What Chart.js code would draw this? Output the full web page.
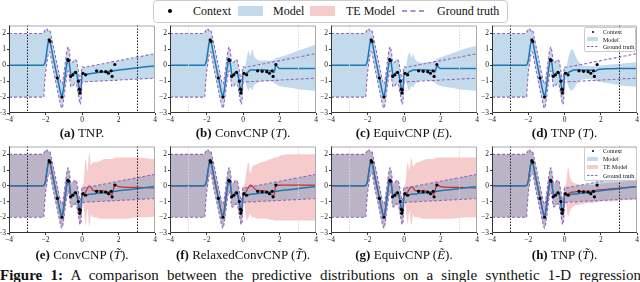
<!DOCTYPE html>
<html><head><meta charset="utf-8">
<script src="https://cdn.jsdelivr.net/npm/chart.js@4.4.1/dist/chart.umd.min.js"></script>
<style>
html,body{margin:0;padding:0;background:#fff;}
body{width:640px;height:282px;overflow:hidden;position:relative;font-family:"Liberation Serif","DejaVu Serif",serif;color:#111;}
canvas{position:absolute;}
.cap{position:absolute;font-size:13px;white-space:nowrap;transform:translateX(-50%);line-height:14px;}
.t{position:absolute;white-space:nowrap;}
#legend{position:absolute;left:153px;top:0px;width:353px;height:21px;border:1px solid #ccc;border-radius:4px;background:#fff;}
.lg{position:absolute;font-size:12px;line-height:12px;top:5px;}
.il{position:absolute;border:1px solid #ccc;border-radius:2px;background:rgba(255,255,255,0.85);}
.it{position:absolute;font-size:6px;line-height:6px;white-space:nowrap;}
#fig{position:absolute;left:0;top:267px;font-size:15px;line-height:17px;word-spacing:4.5px;white-space:nowrap;}
</style>
</head><body>
<script>
// ---------------- data ----------------
const xL = [-4,-2.15,-2.1,-2.05,-2.0,-1.95,-1.9,-1.85,-1.8,-1.75,-1.7,-1.6,-1.5,-1.4,-1.3,-1.2,-1.1,-1.0,-0.9,-0.8,-0.75,-0.7,-0.6,-0.5,-0.4,-0.3,-0.2,-0.1,-0.05,0.0];
const xR = [0.1,0.2,0.3,0.4,0.5,0.6,0.8,1.0,1.3,1.5,1.6,1.7,1.8,2.0,2.5,3.0,3.5,4.0];

const gtMeanL = [0,0,0.02,0.1,0.3,0.7,1.1,1.45,1.6,1.5,1.2,0.6,0.05,-0.5,-1.05,-1.6,-1.95,-1.35,-0.45,0.3,0.4,0.15,-0.6,-0.55,-0.4,-0.5,-1.1,-1.7,-1.45,-0.6];
const gtUpL   = [2,2,2.05,2.15,2.25,2.3,2.25,2.15,2.2,2.15,1.9,1.35,0.8,0.25,-0.3,-0.85,-1.2,-0.6,0.3,1.05,1.15,0.9,0.15,0.2,0.35,0.25,-0.35,-0.95,-0.7,-0.1];
const gtLoL   = [-2,-2,-2,-1.2,-0.5,-0.05,0.35,0.7,0.85,0.8,0.5,-0.15,-0.7,-1.25,-1.8,-2.35,-2.7,-2.1,-1.2,-0.45,-0.35,-0.6,-1.35,-1.3,-1.15,-1.25,-1.85,-2.45,-2.2,-1.1];

const gtMeanR = [-0.59,-0.57,-0.56,-0.54,-0.53,-0.52,-0.49,-0.46,-0.42,-0.39,-0.38,-0.36,-0.35,-0.32,-0.25,-0.18,-0.11,-0.04];
const gtUpR   = [-0.13,-0.1,-0.09,-0.06,-0.04,-0.02,0.02,0.07,0.13,0.18,0.2,0.23,0.24,0.29,0.4,0.51,0.62,0.73];
const gtLoR   = [-1.05,-1.04,-1.03,-1.02,-1.02,-1.02,-1.0,-0.99,-0.97,-0.96,-0.96,-0.95,-0.95,-0.93,-0.9,-0.87,-0.84,-0.81];

const ctxX = [-1.8,-1.75,-1.35,-1.1,-0.78,-0.74,-0.62,-0.5,-0.35,-0.2,-0.15,-0.12,-0.1,0.05,0.2,0.8,1.05,1.3,1.45,1.6,1.65,1.8];
const ctxY = [1.6,1.5,-0.8,-2.0,0.35,0.3,-0.7,-0.6,-0.45,-1.0,-1.5,-1.75,-1.55,-0.5,-0.6,-0.35,-0.38,-0.4,-0.5,-0.35,-0.7,0.05];

// model (right region, x > 0) per panel
const tnpMeanR  = [-0.55,-0.58,-0.56,-0.53,-0.51,-0.5,-0.47,-0.44,-0.41,-0.38,-0.37,-0.36,-0.33,-0.3,-0.24,-0.17,-0.1,-0.04];

const convTMeanR = [-0.55,-0.5,-0.4,-0.3,-0.3,-0.3,-0.3,-0.28,-0.3,-0.35,-0.38,-0.45,0.0,-0.2,-0.2,-0.2,-0.2,-0.2];
const convTUpR   = [-0.1,0.4,0.9,0.6,1.0,0.6,0.35,0.3,0.3,0.3,0.3,0.35,0.45,0.5,0.7,0.9,1.1,1.3];
const convTLoR   = [-1.0,-1.3,-1.6,-1.4,-1.55,-1.3,-1.1,-1.0,-1.0,-1.0,-1.05,-1.1,-1.2,-1.3,-1.4,-1.5,-1.55,-1.6];

const eqvEMeanR = [-0.55,-0.5,-0.4,-0.35,-0.3,-0.3,-0.3,-0.28,-0.3,-0.33,-0.38,-0.42,-0.05,-0.2,-0.2,-0.2,-0.2,-0.2];
const eqvEUpR   = [-0.1,0.5,0.8,0.5,0.7,0.4,0.2,0.15,0.2,0.2,0.25,0.3,0.4,0.5,0.7,0.9,1.1,1.25];
const eqvELoR   = [-1.0,-1.4,-1.6,-1.3,-1.4,-1.2,-1.0,-0.95,-0.95,-1.0,-1.05,-1.1,-1.2,-1.3,-1.4,-1.5,-1.55,-1.6];

const tnpTMeanR = [-0.5,-0.45,-0.4,-0.35,-0.3,-0.3,-0.3,-0.3,-0.3,-0.32,-0.35,-0.38,-0.3,-0.25,-0.22,-0.2,-0.2,-0.2];
const tnpTUpR   = [-0.1,0.4,0.8,1.0,0.9,0.6,0.2,0.0,-0.05,-0.05,-0.05,0.0,0.0,0.0,0.05,0.1,0.15,0.2];
const tnpTLoR   = [-0.9,-1.3,-1.5,-1.6,-1.5,-1.3,-1.0,-0.9,-0.85,-0.9,-0.9,-0.95,-1.0,-1.05,-1.15,-1.25,-1.3,-1.35];

// TE models (bottom row), right region
const teConvMeanR = [-0.5,-0.4,-0.15,0.0,-0.1,-0.3,-0.3,-0.3,-0.35,-0.45,-0.6,-0.35,0.1,-0.05,-0.1,-0.1,-0.12,-0.15];
const teConvUpR   = [0.3,1.7,0.9,2.1,1.3,1.5,1.5,1.6,1.7,1.7,1.7,1.7,1.8,1.8,1.8,1.8,1.75,1.7];
const teConvLoR   = [-1.4,-2.5,-1.5,-2.6,-1.8,-2.0,-2.0,-2.1,-2.1,-2.1,-2.1,-2.1,-2.1,-2.1,-2.1,-2.0,-2.0,-1.95];

const teRelMeanR = [-0.5,-0.3,-0.1,0.05,0.0,-0.15,-0.3,-0.3,-0.35,-0.5,-0.6,-0.6,0.05,0.05,0.05,0.05,0.05,0.05];
const teRelUpR   = [0.2,1.0,1.5,0.8,1.2,1.3,1.4,1.5,1.6,1.7,1.7,1.8,1.8,1.9,2.0,2.0,2.0,2.0];
const teRelLoR   = [-1.3,-2.2,-2.0,-1.8,-2.0,-2.0,-2.1,-2.1,-2.1,-2.15,-2.15,-2.2,-2.2,-2.2,-2.2,-2.2,-2.2,-2.2];

const teEqvMeanR = [-0.5,-0.4,-0.2,-0.05,-0.1,-0.3,-0.3,-0.3,-0.35,-0.45,-0.55,-0.35,0.1,-0.05,-0.1,-0.1,-0.12,-0.15];
const teEqvUpR   = [0.3,1.5,1.0,1.8,1.2,1.4,1.5,1.6,1.7,1.7,1.7,1.75,1.8,1.8,1.8,1.8,1.8,1.8];
const teEqvLoR   = [-1.4,-2.4,-1.6,-2.5,-1.8,-2.0,-2.0,-2.1,-2.1,-2.1,-2.1,-2.1,-2.1,-2.1,-2.1,-2.05,-2.0,-2.0];

const teTnpMeanR = [-0.55,-0.5,-0.45,-0.4,-0.4,-0.38,-0.35,-0.35,-0.33,-0.33,-0.35,-0.3,-0.25,-0.25,-0.2,-0.15,-0.1,-0.05];
const teTnpUpR   = [0.2,1.2,0.6,0.3,0.2,0.15,0.1,0.05,0.05,0.05,0.05,0.05,0.1,0.15,0.2,0.25,0.3,0.35];
const teTnpLoR   = [-1.3,-2.0,-1.6,-1.4,-1.3,-1.25,-1.2,-1.15,-1.1,-1.1,-1.1,-1.05,-1.05,-1.0,-1.0,-0.95,-0.9,-0.9];

const xTicks = [-4,-2,0,2,4];
const yTicks = [-3,-2,-1,0,1,2];
const captions = [
  '<b>(a)</b> TNP.',
  '<b>(b)</b> ConvCNP (<i>T</i>).',
  '<b>(c)</b> EquivCNP (<i>E</i>).',
  '<b>(d)</b> TNP (<i>T</i>).',
  '<b>(e)</b> ConvCNP (<i>T&#771;</i>).',
  '<b>(f)</b> RelaxedConvCNP (<i>T&#771;</i>).',
  '<b>(g)</b> EquivCNP (<i>E&#771;</i>).',
  '<b>(h)</b> TNP (<i>T&#771;</i>).'
];

// ---------------- styling ----------------
const BLUE = '#1f77b4', RED = '#d62728', PURPLE = '#9467bd';
const BLUE_FILL = 'rgba(31,119,180,0.27)', RED_FILL = 'rgba(214,39,40,0.24)';
const FONT = 'Liberation Serif';
const colsX = [[9,155],[170,316],[331,477],[492,637]];
const rowsY = [[24,113],[145,233]];

const XA = xL.concat(xR);
function pts(ys){ return XA.map((x,i)=>({x:x,y:ys[i]})); }
function fmt(v){ return v<0 ? '\u2212'+Math.abs(v) : String(v); }

const framePlugin = {
  id:'frame',
  afterDatasetsDraw(chart, args, opts){
    const {ctx, chartArea:a} = chart; const x = chart.scales.x;
    ctx.save();
    if (opts.vl){
      ctx.setLineDash([1.5,1.5]);
      ctx.strokeStyle = opts.vl==='dark' ? '#222' : '#d8d8d8';
      ctx.lineWidth = 1;
      [-3,3].forEach(v=>{ const px=Math.round(x.getPixelForValue(v))+0.5; ctx.beginPath(); ctx.moveTo(px,a.top); ctx.lineTo(px,a.bottom); ctx.stroke(); });
    }
    ctx.restore();
  },
  afterDraw(chart){
    const {ctx, chartArea:a} = chart;
    ctx.save(); ctx.lineWidth=1;
    ctx.strokeStyle='#aaa';
    ctx.beginPath(); ctx.moveTo(a.left, a.top+0.5); ctx.lineTo(a.right-0.5, a.top+0.5); ctx.lineTo(a.right-0.5, a.bottom); ctx.stroke();
    ctx.strokeStyle='#333';
    ctx.beginPath(); ctx.moveTo(a.left+0.5, a.top); ctx.lineTo(a.left+0.5, a.bottom-0.5); ctx.lineTo(a.right, a.bottom-0.5); ctx.stroke();
    ctx.restore();
  }
};

function makePanel(idx, spec){
  const col = idx%4, row = Math.floor(idx/4);
  const [pl,pr] = colsX[col], [pt,pb] = rowsY[row];
  const cv = document.createElement('canvas');
  const W = (pr-pl)+18+6, H = (pb-pt)+4+13;
  cv.width=W; cv.height=H; cv.style.left=(pl-18)+'px'; cv.style.top=(pt-4)+'px';
  document.body.appendChild(cv);
  const ds = [];
  ds.push({label:'ctx', data:ctxX.map((x,i)=>({x:x,y:ctxY[i]})), showLine:false, pointRadius:1.6, pointBackgroundColor:'#000', pointBorderWidth:0, order:0});
  ds.push({label:'gtu', data:pts(gtUpL.concat(gtUpR)), borderColor:PURPLE, borderWidth:1.1, borderDash:[3,2], pointRadius:0, fill:false, order:1});
  ds.push({label:'gtl', data:pts(gtLoL.concat(gtLoR)), borderColor:PURPLE, borderWidth:1.1, borderDash:[3,2], pointRadius:0, fill:false, order:1});
  ds.push({label:'mean', data:pts(gtMeanL.concat(spec.meanR)), borderColor:BLUE, borderWidth:1.5, pointRadius:0, fill:false, order:2});
  const iLo = ds.length;
  ds.push({label:'lo', data:pts(gtLoL.concat(spec.loR)), borderWidth:0, pointRadius:0, fill:false, order:5});
  ds.push({label:'up', data:pts(gtUpL.concat(spec.upR)), borderWidth:0, pointRadius:0, fill:iLo, backgroundColor:BLUE_FILL, order:4});
  if (spec.teMeanR){
    ds.push({label:'tem', data:pts(gtMeanL.concat(spec.teMeanR)), borderColor:RED, borderWidth:1.2, pointRadius:0, fill:false, order:3});
    const iTl = ds.length;
    ds.push({label:'tel', data:pts(gtLoL.concat(spec.teLoR)), borderWidth:0, pointRadius:0, fill:false, order:7});
    ds.push({label:'teu', data:pts(gtUpL.concat(spec.teUpR)), borderWidth:0, pointRadius:0, fill:iTl, backgroundColor:RED_FILL, order:6});
  }
  new Chart(cv, {
    type:'line',
    data:{datasets:ds},
    plugins:[framePlugin],
    options:{
      responsive:false, animation:false, devicePixelRatio:1,
      layout:{padding:{left:0,top:4,right:6,bottom:0}},
      elements:{line:{cubicInterpolationMode:'monotone'}},
      plugins:{legend:{display:false}, tooltip:{enabled:false}, frame:{vl:spec.vl}},
      scales:{
        x:{type:'linear', min:-4, max:4,
           afterBuildTicks:s=>{ s.ticks = xTicks.map(v=>({value:v})); },
           afterFit:s=>{ s.height=13; },
           grid:{display:true, drawOnChartArea:false, drawTicks:true, tickLength:2, color:'#333'},
           border:{display:false},
           ticks:{font:{family:FONT,size:7.5}, color:'#222', padding:1, maxRotation:0, autoSkip:false, callback:v=>fmt(v)}},
        y:{type:'linear', min:-3, max:2.5,
           afterBuildTicks:s=>{ s.ticks = yTicks.map(v=>({value:v})); },
           afterFit:s=>{ s.width=18; },
           grid:{display:true, drawOnChartArea:false, drawTicks:true, tickLength:2, color:'#333'},
           border:{display:false},
           ticks:{font:{family:FONT,size:7.5}, color:'#222', padding:1, autoSkip:false, callback:v=>fmt(v)}}
      }
    }
  });
  const cap = document.createElement('div');
  cap.className='cap'; cap.innerHTML = captions[idx];
  cap.style.left = ((pl+pr)/2)+'px';
  cap.style.top = (row===0 ? 126 : 248)+'px';
  document.body.appendChild(cap);
}

const specs = [
  {meanR:tnpMeanR, upR:gtUpR, loR:gtLoR, vl:'dark'},
  {meanR:convTMeanR, upR:convTUpR, loR:convTLoR, vl:'faint'},
  {meanR:eqvEMeanR, upR:eqvEUpR, loR:eqvELoR, vl:'faint'},
  {meanR:tnpTMeanR, upR:tnpTUpR, loR:tnpTLoR, vl:'dark'},
  {meanR:gtMeanR, upR:gtUpR, loR:gtLoR, teMeanR:teConvMeanR, teUpR:teConvUpR, teLoR:teConvLoR, vl:'dark'},
  {meanR:gtMeanR, upR:gtUpR, loR:gtLoR, teMeanR:teRelMeanR, teUpR:teRelUpR, teLoR:teRelLoR, vl:'faint'},
  {meanR:gtMeanR, upR:gtUpR, loR:gtLoR, teMeanR:teEqvMeanR, teUpR:teEqvUpR, teLoR:teEqvLoR, vl:'faint'},
  {meanR:gtMeanR, upR:gtUpR, loR:gtLoR, teMeanR:teTnpMeanR, teUpR:teTnpUpR, teLoR:teTnpLoR, vl:'dark'}
];
specs.forEach((s,i)=>makePanel(i,s));
</script>

<!-- top legend -->
<div id="legend"></div>
<div class="t" style="left:168px;top:9px;width:4px;height:4px;border-radius:50%;background:#000;"></div>
<div class="t lg" style="left:193px;">Context</div>
<div class="t" style="left:238px;top:6px;width:25px;height:10px;background:rgba(31,119,180,0.27);"></div>
<div class="t lg" style="left:273px;">Model</div>
<div class="t" style="left:310px;top:6px;width:25px;height:10px;background:rgba(214,39,40,0.24);"></div>
<div class="t lg" style="left:346px;">TE Model</div>
<svg class="t" style="left:402px;top:9px;" width="24" height="4"><line x1="0" y1="2" x2="24" y2="2" stroke="#9467bd" stroke-width="1.5" stroke-dasharray="5,3.5"/></svg>
<div class="t lg" style="left:437px;">Ground truth</div>

<!-- inner legend (d) -->
<div class="il" style="left:584px;top:27px;width:50px;height:23px;"></div>
<div class="t" style="left:592px;top:31px;width:2px;height:2px;border-radius:50%;background:#000;"></div>
<div class="it" style="left:603px;top:29px;">Context</div>
<div class="t" style="left:587px;top:37px;width:11px;height:4px;background:rgba(31,119,180,0.27);"></div>
<div class="it" style="left:603px;top:36.5px;">Model</div>
<svg class="t" style="left:587px;top:45px;" width="11" height="3"><line x1="0" y1="1.5" x2="11" y2="1.5" stroke="#9467bd" stroke-width="1" stroke-dasharray="2.5,1.5"/></svg>
<div class="it" style="left:603px;top:44px;">Ground truth</div>

<!-- inner legend (h) -->
<div class="il" style="left:584px;top:147px;width:51px;height:32px;"></div>
<div class="t" style="left:592px;top:150px;width:2px;height:2px;border-radius:50%;background:#000;"></div>
<div class="it" style="left:603px;top:148px;">Context</div>
<div class="t" style="left:587px;top:157px;width:11px;height:4px;background:rgba(31,119,180,0.27);"></div>
<div class="it" style="left:603px;top:156px;">Model</div>
<div class="t" style="left:587px;top:165px;width:11px;height:4px;background:rgba(214,39,40,0.24);"></div>
<div class="it" style="left:603px;top:164px;">TE Model</div>
<svg class="t" style="left:587px;top:174px;" width="11" height="3"><line x1="0" y1="1.5" x2="11" y2="1.5" stroke="#9467bd" stroke-width="1" stroke-dasharray="2.5,1.5"/></svg>
<div class="it" style="left:603px;top:173px;">Ground truth</div>

<div id="fig"><b>Figure 1:</b> A comparison between the predictive distributions on a single synthetic 1-D regression</div>
</body></html>
